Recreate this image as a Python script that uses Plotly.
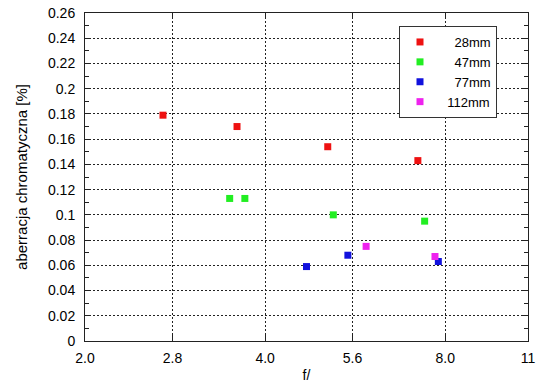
import math
import plotly.graph_objects as go

# f-numbers and chromatic aberration [%] per focal length
names = ["28mm", "47mm", "77mm", "112mm"]
colors = ["#ee1111", "#22ee22", "#1111dd", "#ee22ee"]

x_28 = [2.70, 3.59, 5.09, 7.20]
y_28 = [0.179, 0.170, 0.154, 0.143]

x_47 = [3.49, 3.70, 5.20, 7.39]
y_47 = [0.113, 0.113, 0.100, 0.095]

x_77 = [4.69, 5.50, 7.79]
y_77 = [0.059, 0.068, 0.063]

x_112 = [5.90, 7.69]
y_112 = [0.075, 0.067]

x_tickvals = [2.0, 2.8, 4.0, 5.6, 8.0, 11]
x_ticktext = ["2.0", "2.8", "4.0", "5.6", "8.0", "11"]
y_tickvals = [0, 0.02, 0.04, 0.06, 0.08, 0.1, 0.12, 0.14, 0.16, 0.18, 0.2, 0.22, 0.24, 0.26]
y_ticktext = ["0", "0.02", "0.04", "0.06", "0.08", "0.1", "0.12", "0.14", "0.16", "0.18", "0.2", "0.22", "0.24", "0.26"]

series = [(x_28, y_28), (x_47, y_47), (x_77, y_77), (x_112, y_112)]
maxlen = max(len(n) for n in names)

fig = go.Figure()
for (xs, ys), name, col in zip(series, names, colors):
    pad = "\u200b" + "\u2007" * (maxlen - len(name) + 1)
    fig.add_trace(go.Scatter(
        x=xs, y=ys, mode="markers", name=pad + name,
        marker=dict(symbol="square", size=7, color=col, line=dict(width=0)),
    ))

fig.update_layout(
    width=550, height=389,
    margin=dict(l=85, r=22, t=13, b=48),
    paper_bgcolor="white", plot_bgcolor="white",
    font=dict(family="Liberation Sans, Arial, sans-serif", size=14, color="black"),
    showlegend=True,
    legend=dict(
        x=(399 - 85) / 443, y=1 - (26 - 13) / 328, xanchor="left", yanchor="top",
        bgcolor="white", bordercolor="#333333", borderwidth=1,
        font=dict(size=13), tracegroupgap=0,
    ),
)
fig.update_xaxes(
    type="log", range=[math.log10(2.0), math.log10(11)],
    tickvals=x_tickvals, ticktext=x_ticktext,
    ticks="inside", ticklen=6, tickcolor="#222222",
    showline=True, linecolor="#222222", linewidth=1, mirror="ticks",
    showgrid=True, gridcolor="#222222", griddash="2px,2px", gridwidth=1,
    zeroline=False, ticklabelstandoff=4, automargin=False,
    title=dict(text="f/", font=dict(size=14), standoff=5),
)
fig.update_yaxes(
    range=[0, 0.26],
    tickvals=y_tickvals, ticktext=y_ticktext,
    ticks="inside", ticklen=6, tickcolor="#222222",
    minor=dict(ticks="inside", ticklen=4, dtick=0.01, tickcolor="#222222", showgrid=False),
    showline=True, linecolor="#222222", linewidth=1, mirror="ticks",
    showgrid=True, gridcolor="#222222", griddash="2px,2px", gridwidth=1,
    zeroline=False, ticklabelstandoff=6, automargin=False,
    title=dict(text="aberracja chromatyczna [%]", font=dict(size=15), standoff=16),
)

fig.write_html(
    "out.html",
    config={"displayModeBar": False},
    post_script="document.body.style.margin='0px';document.body.style.overflow='hidden';",
)
